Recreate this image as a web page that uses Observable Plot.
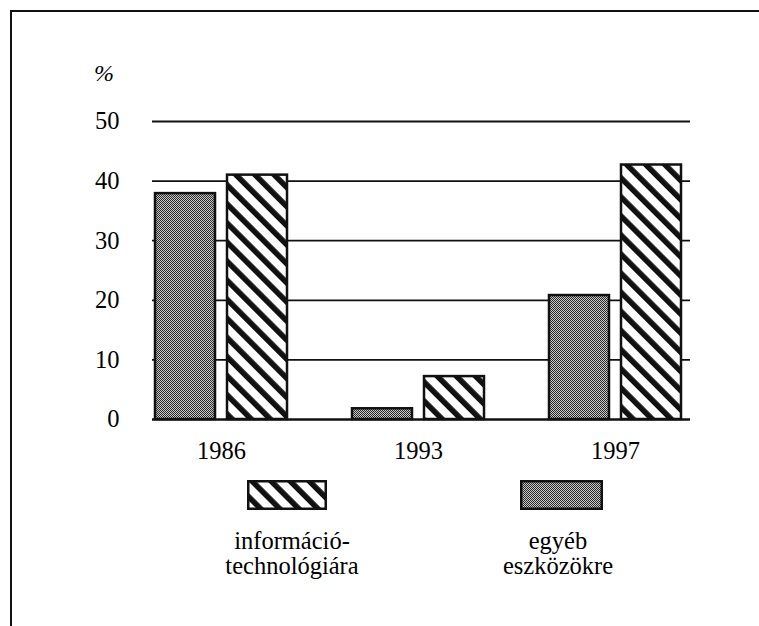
<!DOCTYPE html>
<html>
<head>
<meta charset="utf-8">
<script src="https://cdn.jsdelivr.net/npm/d3@7"></script>
<script src="https://cdn.jsdelivr.net/npm/@observablehq/plot@0.6"></script>
<style>
  html, body { margin: 0; padding: 0; background: #fff; overflow: hidden; }
  #wrap { position: relative; width: 759px; height: 626px; font-family: "Liberation Serif", "Times New Roman", serif; color: #000; overflow: hidden; }
  #topline { position: absolute; left: 10px; top: 10px; width: 749px; height: 2px; background: #111; }
  #leftline { position: absolute; left: 10px; top: 10px; width: 2px; height: 616px; background: #111; }
  .lbl { position: absolute; font-size: 24.5px; line-height: 25px; text-align: center; }
  .swatch { position: absolute; }
  #unit { position: absolute; left: 94px; top: 62px; font-size: 24px; line-height: 23px; font-style: italic; }
</style>
</head>
<body>
<div id="wrap">
  <div id="chart"></div>
  <div id="topline"></div>
  <div id="leftline"></div>
  <div id="unit">%</div>
  <div id="legend"></div>
</div>
<script>
// ---- data ----
const years = ["1986", "1993", "1997"];
const infoTech = [41.0, 7.2, 42.7];     // információ-technológiára (hatched)
const otherAssets = [37.9, 1.8, 20.8];  // egyéb eszközökre (grey)
const yTicks = [0, 10, 20, 30, 40, 50];
const gridTicks = [10, 20, 30, 40, 50];
const seriesNames = [["információ-", "technológiára"], ["egyéb", "eszközökre"]];

const table = years.map((year, i) => ({year, info: infoTech[i], other: otherAssets[i]}));

const svg = Plot.plot({
  width: 759,
  height: 626,
  marginTop: 121,
  marginBottom: 207,
  marginLeft: 152,
  marginRight: 69,
  style: {fontFamily: "'Liberation Serif', 'Times New Roman', serif", fontSize: "24.5px", color: "#000", background: "transparent"},
  x: {domain: years, range: [122.5, 713.5], paddingInner: 0.33, paddingOuter: 0.165, label: null, tickSize: 0, tickPadding: 22},
  y: {domain: [0, 50], ticks: yTicks, label: null, tickSize: 0, tickPadding: 33},
  marks: [
    Plot.ruleY(gridTicks, {stroke: "#111", strokeWidth: 1.8}),
    Plot.barY(table, {x: "year", y: "other", fill: "url(#greyDots)", stroke: "#111", strokeWidth: 2.5, insetRight: 72}),
    Plot.barY(table, {x: "year", y: "info", fill: "url(#hatch)", stroke: "#111", strokeWidth: 2.5, insetLeft: 72}),
    Plot.ruleY([0], {stroke: "#111", strokeWidth: 2.6})
  ]
});

const defsMarkup = `
  <pattern id="hatch" patternUnits="userSpaceOnUse" width="13.5" height="13.5" patternTransform="rotate(-45)">
    <rect x="0" y="0" width="13.5" height="13.5" fill="#fff"/>
    <rect x="0" y="0" width="5.6" height="13.5" fill="#111"/>
  </pattern>
  <pattern id="greyDots" patternUnits="userSpaceOnUse" width="2" height="2">
    <rect x="0" y="0" width="2" height="2" fill="#c8c8c8"/>
    <rect x="0" y="0" width="1" height="1" fill="#2a2a2a"/>
    <rect x="1" y="1" width="1" height="1" fill="#2a2a2a"/>
  </pattern>`;
const defs = document.createElementNS("http://www.w3.org/2000/svg", "defs");
defs.innerHTML = defsMarkup;
svg.insertBefore(defs, svg.firstChild);
document.getElementById("chart").appendChild(svg);

// ---- legend (below the plotting area) ----
const legend = d3.select("#legend");
const legendItems = [
  {fill: "url(#hatchL)", left: 247, width: 80, center: 292, names: seriesNames[0]},
  {fill: "url(#greyL)", left: 520, width: 83, center: 558, names: seriesNames[1]}
];
legendItems.forEach((d, i) => {
  const sw = legend.append("svg").attr("class", "swatch")
    .style("left", d.left + "px").style("top", "480px")
    .attr("width", d.width).attr("height", 30);
  const df = sw.append("defs");
  if (i === 0) {
    df.html(`<pattern id="hatchL" patternUnits="userSpaceOnUse" width="13.5" height="13.5" patternTransform="rotate(-45)">
      <rect x="0" y="0" width="13.5" height="13.5" fill="#fff"/><rect x="0" y="0" width="5.6" height="13.5" fill="#111"/></pattern>`);
  } else {
    df.html(`<pattern id="greyL" patternUnits="userSpaceOnUse" width="2" height="2">
      <rect width="2" height="2" fill="#c8c8c8"/><rect width="1" height="1" fill="#2a2a2a"/><rect x="1" y="1" width="1" height="1" fill="#2a2a2a"/></pattern>`);
  }
  sw.append("rect").attr("x", 1.25).attr("y", 1.25)
    .attr("width", d.width - 2.5).attr("height", 27.5)
    .attr("fill", d.fill).attr("stroke", "#111").attr("stroke-width", 2.5);
  legend.append("div").attr("class", "lbl")
    .style("left", (d.center - 100) + "px").style("top", "528px").style("width", "200px")
    .html(d.names.join("<br>"));
});
</script>
</body>
</html>
